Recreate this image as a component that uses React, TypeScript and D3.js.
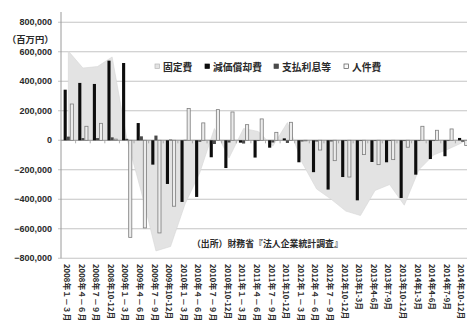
import React from 'react';
import * as d3 from 'd3';

// Quarterly change (millions of yen) of fixed costs and their components
const categories: string[] = [
  '2008年１－３月', '2008年４－６月', '2008年７－９月', '2008年10-12月',
  '2009年１－３月', '2009年４－６月', '2009年７－９月', '2009年10-12月',
  '2010年１－３月', '2010年４－６月', '2010年７－９月', '2010年10-12月',
  '2011年１－３月', '2011年４－６月', '2011年７－９月', '2011年10-12月',
  '2012年１－３月', '2012年４－６月', '2012年７－９月', '2012年10-12月',
  '2013年1-3月', '2013年4-6月', '2013年7-9月', '2013年10-12月',
  '2014年1-3月', '2014年4-6月', '2014年7-9月', '2014年10-12月',
];

const fixedCost: number[] = [
  605000, 490000, 500000, 565000, 15000, -350000, -750000, -720000,
  -430000, -220000, 80000, -120000, 80000, 60000, -40000, 120000,
  -150000, -330000, -400000, -480000, -510000, -340000, -300000, -440000,
  -200000, -100000, -60000, -15000,
];

const depreciation: number[] = [
  343000, 389000, 382000, 540000, 524000, 117000, -165000, -296000,
  -418000, -384000, -115000, -188000, -16000, -117000, -50000, 13000,
  -149000, -216000, -334000, -249000, -407000, -147000, -149000, -391000,
  -233000, -127000, -108000, 16000,
];

const interest: number[] = [
  25000, 15000, 15000, 20000, 10000, 27000, 32000, 5000,
  3000, -10000, -25000, -15000, -22000, -5000, -15000, -18000,
  -8000, -8000, -8000, -5000, -5000, -5000, -5000, -5000,
  -5000, -5000, -5000, -10000,
];

const personnel: number[] = [
  246000, 95000, 115000, 8000, -658000, -594000, -628000, -447000,
  215000, 118000, 208000, 192000, 106000, 145000, 54000, 122000,
  -3000, -66000, -138000, -249000, -97000, -165000, -131000, -47000,
  95000, 68000, 77000, -35000,
];

const seriesNames: string[] = ['固定費', '減価償却費', '支払利息等', '人件費'];
const yTicks: number[] = [-800000, -600000, -400000, -200000, 0, 200000, 400000, 600000, 800000];
const unitLabel = '（百万円）';
const sourceNote = '（出所）財務省『法人企業統計調査』';

const W = 467;
const H = 328;
const JP = '"Noto Sans CJK JP", "Noto Sans", sans-serif';
const NUM = '"Liberation Sans", Arial, sans-serif';

const C_AREA = '#e3e3e3';
const C_DEP = '#0d0d0d';
const C_INT = '#4a4a4a';
const C_LAB_FILL = '#ececec';
const C_LAB_STROKE = '#7d7d7d';
const C_GRID = '#c4c4c4';
const C_AXIS = '#9a9a9a';

export default function App() {
  const x = d3.scaleBand<string>()
    .domain(categories)
    .range([61, 470])
    .paddingInner(0.36)
    .paddingOuter(0.18);
  const inner = d3.scaleBand<string>()
    .domain(['dep', 'int', 'lab'])
    .range([0, x.bandwidth()]);
  const y = d3.scaleLinear().domain([-800000, 800000]).range([258.3, 22.3]);

  const cx = (c: string) => (x(c) as number) + x.bandwidth() / 2;
  const y0 = y(0);

  const areaGen = d3.area<number>()
    .x((_, i) => cx(categories[i]))
    .y0(y0)
    .y1((d) => y(d));

  const barRect = (v: number, c: string, key: 'dep' | 'int' | 'lab') => {
    const top = y(Math.max(v, 0));
    const bot = y(Math.min(v, 0));
    return {
      x: (x(c) as number) + (inner(key) as number),
      y: top,
      w: inner.bandwidth(),
      h: Math.max(bot - top, 0.6),
    };
  };

  const fmt = d3.format(',');
  const step = x.step();

  const legendItems = [
    { name: seriesNames[0], sx: 155, tx: 163, fill: C_AREA, stroke: '#b5b5b5' },
    { name: seriesNames[1], sx: 205, tx: 213, fill: C_DEP, stroke: C_DEP },
    { name: seriesNames[2], sx: 274, tx: 282, fill: C_INT, stroke: C_INT },
    { name: seriesNames[3], sx: 344, tx: 352, fill: '#fafafa', stroke: '#555' },
  ];

  return (
    <svg
      width={W}
      height={H}
      viewBox={`0 0 ${W} ${H}`}
      style={{ position: 'absolute', left: 0, top: 0, background: '#fff' }}
    >
      <rect x={0} y={0} width={W} height={H} fill="#fff" />

      {/* horizontal gridlines and value ticks */}
      {yTicks.map((t) => (
        <g key={t}>
          <line x1={58} x2={W} y1={y(t)} y2={y(t)} stroke={C_GRID} strokeWidth={1.1} />
          <text
            x={52}
            y={y(t)}
            textAnchor="end"
            dominantBaseline="central"
            fontFamily={NUM}
            fontWeight="bold"
            fontSize={9}
            fill="#2a2a2a"
          >
            {fmt(t)}
          </text>
        </g>
      ))}

      {/* fixed cost area */}
      <path d={areaGen(fixedCost) as string} fill={C_AREA} stroke="#d6d6d6" strokeWidth={0.6} />

      {/* category axis on the zero line */}
      <line x1={61} x2={W} y1={y0} y2={y0} stroke={C_AXIS} strokeWidth={1} />
      {categories.map((c, i) => (
        <line
          key={`tk${i}`}
          x1={61 + step * (i + 1)}
          x2={61 + step * (i + 1)}
          y1={y0}
          y2={y0 + 3}
          stroke={C_AXIS}
          strokeWidth={0.8}
        />
      ))}

      {/* bars */}
      {categories.map((c, i) => {
        const d = barRect(depreciation[i], c, 'dep');
        const n = barRect(interest[i], c, 'int');
        const l = barRect(personnel[i], c, 'lab');
        return (
          <g key={`b${i}`}>
            <rect x={d.x} y={d.y} width={d.w} height={d.h} fill={C_DEP} />
            <rect x={n.x} y={n.y} width={n.w} height={n.h} fill={C_INT} />
            <rect
              x={l.x + 0.4}
              y={l.y}
              width={l.w}
              height={l.h}
              fill={C_LAB_FILL}
              stroke={C_LAB_STROKE}
              strokeWidth={0.8}
            />
          </g>
        );
      })}

      {/* value axis */}
      <line x1={61} x2={61} y1={12} y2={258.3} stroke={C_AXIS} strokeWidth={1} />

      {/* unit */}
      <text x={7} y={39} dominantBaseline="central" fontFamily={JP} fontWeight="bold" fontSize={9.3} fill="#2a2a2a">
        {unitLabel}
      </text>

      {/* legend */}
      {legendItems.map((it) => (
        <g key={it.name}>
          <rect x={it.sx} y={64} width={4.5} height={4.5} fill={it.fill} stroke={it.stroke} strokeWidth={0.7} />
          <text
            x={it.tx}
            y={66.5}
            dominantBaseline="central"
            fontFamily={JP}
            fontWeight="bold"
            fontSize={9.8}
            fill="#2a2a2a"
          >
            {it.name}
          </text>
        </g>
      ))}

      {/* source note */}
      <text x={192} y={243} dominantBaseline="central" fontFamily={JP} fontWeight="bold" fontSize={8.9} fill="#2a2a2a">
        {sourceNote}
      </text>

      {/* category labels, vertical */}
      {categories.map((c) => (
        <text
          key={c}
          transform={`translate(${cx(c) - 0.8},264) rotate(90)`}
          dominantBaseline="central"
          fontFamily={JP}
          fontWeight="bold"
          fontSize={7.8}
          fill="#2a2a2a"
        >
          {c}
        </text>
      ))}
    </svg>
  );
}
